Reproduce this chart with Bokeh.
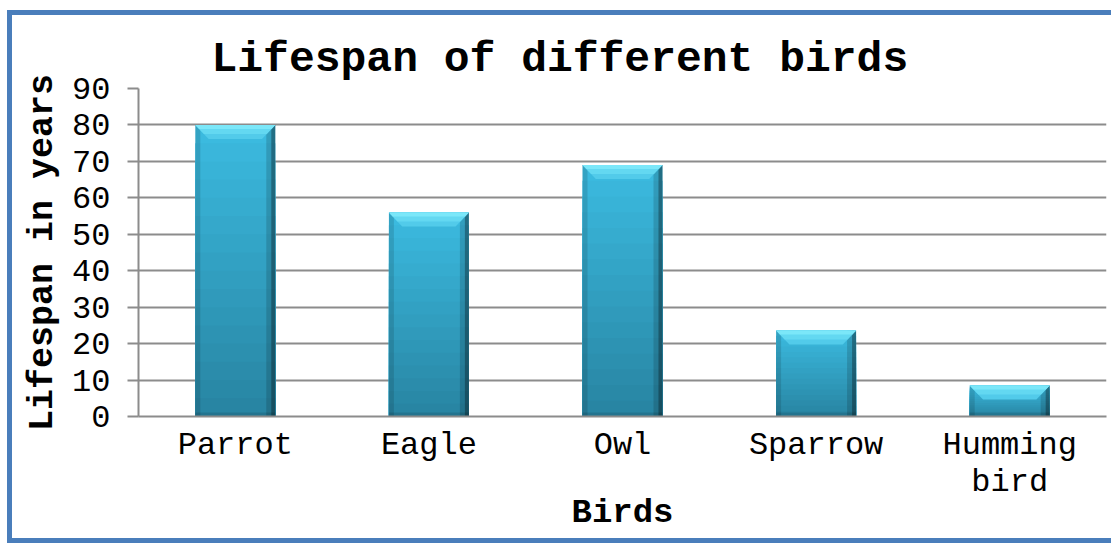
import numpy as np
from bokeh.plotting import figure
from bokeh.models import FixedTicker, Range1d, Title
from bokeh.embed import file_html
from bokeh.resources import INLINE

# ---- data ----
birds = ["Parrot", "Eagle", "Owl", "Sparrow", "Humming\nbird"]
lifespan = [80, 56, 69, 23.6, 8.5]
y_ticks = [0, 10, 20, 30, 40, 50, 60, 70, 80, 90]
title_text = "Lifespan of different birds"
x_title = "Birds"
y_title = "Lifespan in years"

FONT = "Liberation Mono"
W, H = 1099, 523
FRAME_H = 328.0
FRAME_W = 968.0
BORDER = "#4a7ebb"

p = figure(width=W, height=H, x_range=Range1d(0.5, len(birds) + 0.5),
           y_range=Range1d(0, 90), output_backend="svg", toolbar_location=None,
           min_border_left=126, min_border_right=5, min_border_top=73,
           min_border_bottom=122, title=None)
shadow = ", ".join("%dpx %dpx 0 0 %s" % (dx_, dy_, BORDER)
                   for dx_, dy_ in [(-5, 0), (0, -5), (0, 5), (-5, -5), (-5, 5)])
p.styles = {"margin-left": "12px", "margin-top": "15px", "box-shadow": shadow}
p.outline_line_color = None
p.background_fill_color = "white"
p.border_fill_color = "white"

t = Title(text=title_text, align="left", offset=73,
          text_font=FONT, text_font_size="43px", text_font_style="bold",
          text_color="black")
p.add_layout(t, "above")

xs = np.arange(1, len(birds) + 1)
vals = np.array(lifespan, dtype=float)
BAR_W = 0.413
PXY = FRAME_H / 90.0   # px per y unit
PXX = FRAME_W / len(birds)  # px per x unit

# body gradient (overlapping bands, tallest first)
n = 16
top_c = np.array([60, 188, 225])
bot_c = np.array([40, 132, 162])
for k in range(n, 0, -1):
    tt = (k - 0.5) / n
    c = (bot_c + (top_c - bot_c) * tt).astype(int)
    col = "#%02x%02x%02x" % tuple(c)
    p.quad(left=xs - BAR_W / 2, right=xs + BAR_W / 2,
           bottom=0, top=vals * k / n,
           fill_color=col, line_color=None)

# side shading
lw = 5 / PXX
p.quad(left=xs - BAR_W / 2, right=xs - BAR_W / 2 + lw, bottom=0, top=vals,
       fill_color="black", fill_alpha=0.12, line_color=None)
rw = 9 / PXX
p.quad(left=xs + BAR_W / 2 - rw, right=xs + BAR_W / 2, bottom=0, top=vals,
       fill_color="black", fill_alpha=0.15, line_color=None)
rw2 = 4 / PXX
p.quad(left=xs + BAR_W / 2 - rw2, right=xs + BAR_W / 2, bottom=0, top=vals,
       fill_color="black", fill_alpha=0.3, line_color=None)
bh = 4 / PXY
p.quad(left=xs - BAR_W / 2, right=xs + BAR_W / 2, bottom=0, top=np.minimum(bh, vals),
       fill_color="black", fill_alpha=0.12, line_color=None)

# top bevel (layered trapezoids, light cyan)
for dpx, col in [(14, "#52cbea"), (9, "#63d8f1"), (4, "#7be7f9")]:
    dy = dpx / PXY
    dx = dpx * 0.95 / PXX
    bx = [[x - BAR_W / 2, x + BAR_W / 2, x + BAR_W / 2 - dx, x - BAR_W / 2 + dx] for x in xs]
    by = [[v, v, v - dy, v - dy] for v in vals]
    p.patches(bx, by, fill_color=col, line_color=None)

# grid
p.xgrid.visible = False
p.ygrid.ticker = FixedTicker(ticks=y_ticks)
p.ygrid.grid_line_color = "#8c8c8c"
p.ygrid.grid_line_width = 2
p.ygrid.level = "underlay"

# y axis
ya = p.yaxis[0]
ya.ticker = FixedTicker(ticks=y_ticks)
ya.axis_line_color = "#8c8c8c"
ya.axis_line_width = 2
ya.major_tick_line_color = "#8c8c8c"
ya.major_tick_line_width = 2
ya.major_tick_out = 11
ya.major_tick_in = 0
ya.minor_tick_line_color = None
ya.major_label_standoff = 17
ya.major_label_text_font = FONT
ya.major_label_text_font_size = "32px"
ya.major_label_text_color = "black"
ya.axis_label = y_title
ya.axis_label_text_font = FONT
ya.axis_label_text_font_size = "35px"
ya.axis_label_text_font_style = "bold"
ya.axis_label_text_color = "black"
ya.axis_label_standoff = 6

# x axis
xa = p.xaxis[0]
xa.ticker = FixedTicker(ticks=list(int(x) for x in xs))
xa.major_label_overrides = {int(x): b for x, b in zip(xs, birds)}
xa.axis_line_color = "#8c8c8c"
xa.axis_line_width = 2
xa.major_tick_line_color = None
xa.minor_tick_line_color = None
xa.major_tick_out = 0
xa.major_tick_in = 0
xa.major_label_standoff = 10
xa.major_label_text_font = FONT
xa.major_label_text_font_size = "32px"
xa.major_label_text_line_height = 1.0
xa.major_label_text_color = "black"
xa.axis_label = x_title
xa.axis_label_text_font = FONT
xa.axis_label_text_font_size = "34px"
xa.axis_label_text_font_style = "bold"
xa.axis_label_text_color = "black"
xa.axis_label_standoff = -10

open("out.html", "w").write(file_html(p, INLINE))
